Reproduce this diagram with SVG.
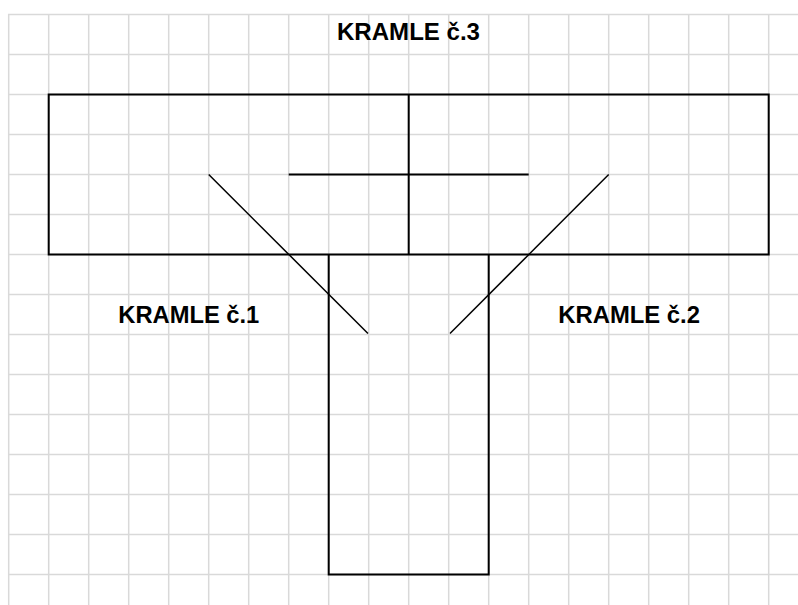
<svg xmlns="http://www.w3.org/2000/svg" width="798" height="605" viewBox="0 0 798 605">
<style>
.grid line{stroke:#d9d9d9;stroke-width:1.5}
.wall{stroke:#000;stroke-width:2;fill:none}
.diag{stroke:#000;stroke-width:1.5;fill:none}
.lbl{font-family:"Liberation Sans",Arial,sans-serif;font-weight:bold;font-size:23px;fill:#000}
</style>
<rect width="798" height="605" fill="#fff"/>
<g class="grid" id="grid">
<line x1="8" y1="14.5" x2="798" y2="14.5"/>
<line x1="8" y1="54.5" x2="798" y2="54.5"/>
<line x1="8" y1="94.5" x2="798" y2="94.5"/>
<line x1="8" y1="134.5" x2="798" y2="134.5"/>
<line x1="8" y1="174.5" x2="798" y2="174.5"/>
<line x1="8" y1="214.5" x2="798" y2="214.5"/>
<line x1="8" y1="254.5" x2="798" y2="254.5"/>
<line x1="8" y1="294.5" x2="798" y2="294.5"/>
<line x1="8" y1="334.5" x2="798" y2="334.5"/>
<line x1="8" y1="374.5" x2="798" y2="374.5"/>
<line x1="8" y1="414.5" x2="798" y2="414.5"/>
<line x1="8" y1="454.5" x2="798" y2="454.5"/>
<line x1="8" y1="494.5" x2="798" y2="494.5"/>
<line x1="8" y1="534.5" x2="798" y2="534.5"/>
<line x1="8" y1="574.5" x2="798" y2="574.5"/>
<line x1="8.7" y1="14" x2="8.7" y2="605"/>
<line x1="48.7" y1="14" x2="48.7" y2="605"/>
<line x1="88.7" y1="14" x2="88.7" y2="605"/>
<line x1="128.7" y1="14" x2="128.7" y2="605"/>
<line x1="168.7" y1="14" x2="168.7" y2="605"/>
<line x1="208.7" y1="14" x2="208.7" y2="605"/>
<line x1="248.7" y1="14" x2="248.7" y2="605"/>
<line x1="288.7" y1="14" x2="288.7" y2="605"/>
<line x1="328.7" y1="14" x2="328.7" y2="605"/>
<line x1="368.7" y1="14" x2="368.7" y2="605"/>
<line x1="408.7" y1="14" x2="408.7" y2="605"/>
<line x1="448.7" y1="14" x2="448.7" y2="605"/>
<line x1="488.7" y1="14" x2="488.7" y2="605"/>
<line x1="528.7" y1="14" x2="528.7" y2="605"/>
<line x1="568.7" y1="14" x2="568.7" y2="605"/>
<line x1="608.7" y1="14" x2="608.7" y2="605"/>
<line x1="648.7" y1="14" x2="648.7" y2="605"/>
<line x1="688.7" y1="14" x2="688.7" y2="605"/>
<line x1="728.7" y1="14" x2="728.7" y2="605"/>
<line x1="768.7" y1="14" x2="768.7" y2="605"/>
</g>
<g id="kramle3">
<rect class="wall" x="48.7" y="94.5" width="720" height="160"/>
<line class="wall" x1="408.7" y1="94.5" x2="408.7" y2="254.5"/>
<line class="wall" x1="288.7" y1="174.5" x2="528.7" y2="174.5"/>
<text class="lbl" x="337" y="40" textLength="143" lengthAdjust="spacingAndGlyphs">KRAMLE č.3</text>
</g>
<g id="stem">
<path class="wall" d="M328.7 254.5 V574.5 H488.7 V254.5"/>
</g>
<g id="kramle1">
<line class="diag" x1="208.7" y1="174.5" x2="368" y2="333.5"/>
<text class="lbl" x="118.3" y="323" textLength="141" lengthAdjust="spacingAndGlyphs">KRAMLE č.1</text>
</g>
<g id="kramle2">
<line class="diag" x1="608.7" y1="174.5" x2="450" y2="333.5"/>
<text class="lbl" x="558.3" y="323" textLength="141.7" lengthAdjust="spacingAndGlyphs">KRAMLE č.2</text>
</g>
</svg>
